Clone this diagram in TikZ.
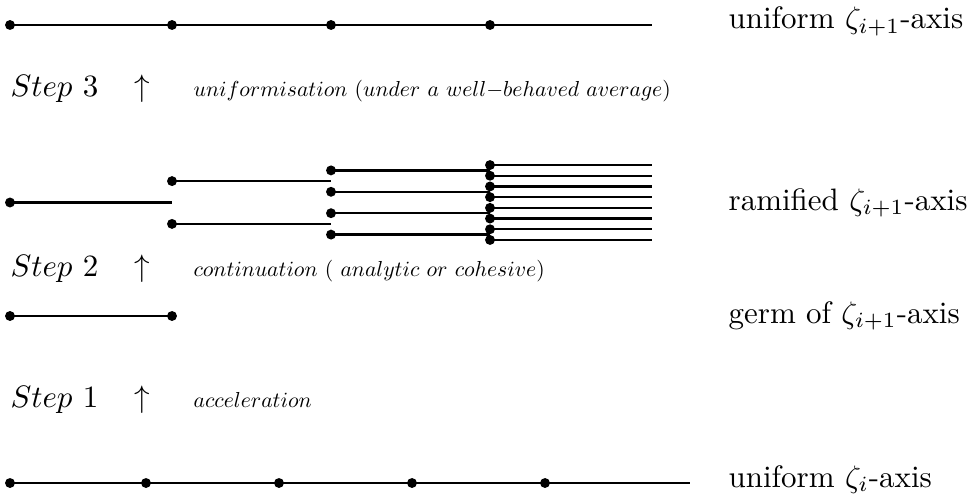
\documentclass[tikz,border=0pt]{standalone}
\begin{document}
\begin{tikzpicture}[x=0.3226pt,y=-0.3226pt,
  dot/.style={circle,fill,inner sep=0pt,minimum size=3.2pt},
  axis/.style={line width=0.8pt},
  lbl/.style={anchor=base west,inner sep=0pt},
  steplbl/.style={anchor=base west,inner sep=0pt},
  upar/.style={anchor=base,inner sep=0pt},
  desc/.style={anchor=base west,inner sep=0pt}]
\newcommand{\smalldesc}[1]{\scalebox{0.7}{$#1$}}
\useasboundingbox (0,0) rectangle (968,495);

% uniform zeta_{i+1}-axis
\node[dot] (t1) at (10,25) {};
\node[dot] (t2) at (172,25) {};
\node[dot] (t3) at (331,25) {};
\node[dot] (t4) at (490,25) {};
\coordinate (t5) at (652,25);
\draw[axis] (t1.center) -- (t2.center) -- (t3.center) -- (t4.center) -- (t5);
\node[lbl] (tl) at (728,29) {uniform $\zeta_{i+1}$-axis};

% step 3
\node[steplbl] (s3) at (10,97) {$Step\ 3$};
\node[upar] (a3) at (142,97) {$\uparrow$};
\node[desc] (d3) at (193,97) {\smalldesc{uniformisation\ (under\ a\ well{-}behaved\ average)}};

% ramified zeta_{i+1}-axis: each branch splits in two, spacing halves
\def\dd{10.7}
\def\cy{202.5}
\node[dot] (r0) at (10,\cy) {};
\coordinate (r0e) at (172,\cy);
\draw[axis] (r0.center) -- (r0e);
\foreach \k in {1,2}{
  \node[dot] (ra\k) at (172,{\cy+(4*\k-6)*\dd}) {};
  \coordinate (ra\k e) at (331,{\cy+(4*\k-6)*\dd});
  \draw[axis] (ra\k.center) -- (ra\k e);
}
\foreach \k in {1,...,4}{
  \node[dot] (rb\k) at (331,{\cy+(2*\k-5)*\dd}) {};
  \coordinate (rb\k e) at (490,{\cy+(2*\k-5)*\dd});
  \draw[axis] (rb\k.center) -- (rb\k e);
}
\foreach \k in {1,...,8}{
  \node[dot] (rc\k) at (490,{\cy+(\k-4.5)*\dd}) {};
  \coordinate (rc\k e) at (652,{\cy+(\k-4.5)*\dd});
  \draw[axis] (rc\k.center) -- (rc\k e);
}
\node[lbl] (rl) at (728,210) {ramified $\zeta_{i+1}$-axis};

% step 2
\node[steplbl] (s2) at (10,276) {$Step\ 2$};
\node[upar] (a2) at (142,276) {$\uparrow$};
\node[desc] (d2) at (193,276) {\smalldesc{continuation\ (\ analytic\ or\ cohesive)}};

% germ of zeta_{i+1}-axis
\node[dot] (g1) at (10,316) {};
\node[dot] (g2) at (172,316) {};
\draw[axis] (g1.center) -- (g2.center);
\node[lbl] (gl) at (728,323) {germ of $\zeta_{i+1}$-axis};

% step 1
\node[steplbl] (s1) at (10,407) {$Step\ 1$};
\node[upar] (a1) at (142,407) {$\uparrow$};
\node[desc] (d1) at (193,407) {\smalldesc{acceleration}};

% uniform zeta_i-axis
\node[dot] (b1) at (10,483) {};
\node[dot] (b2) at (146,483) {};
\node[dot] (b3) at (279,483) {};
\node[dot] (b4) at (412,483) {};
\node[dot] (b5) at (545,483) {};
\coordinate (b6) at (690,483);
\draw[axis] (b1.center) -- (b2.center) -- (b3.center) -- (b4.center) -- (b5.center) -- (b6);
\node[lbl] (bl) at (728,487) {uniform $\zeta_{i}$-axis};
\end{tikzpicture}
\end{document}
